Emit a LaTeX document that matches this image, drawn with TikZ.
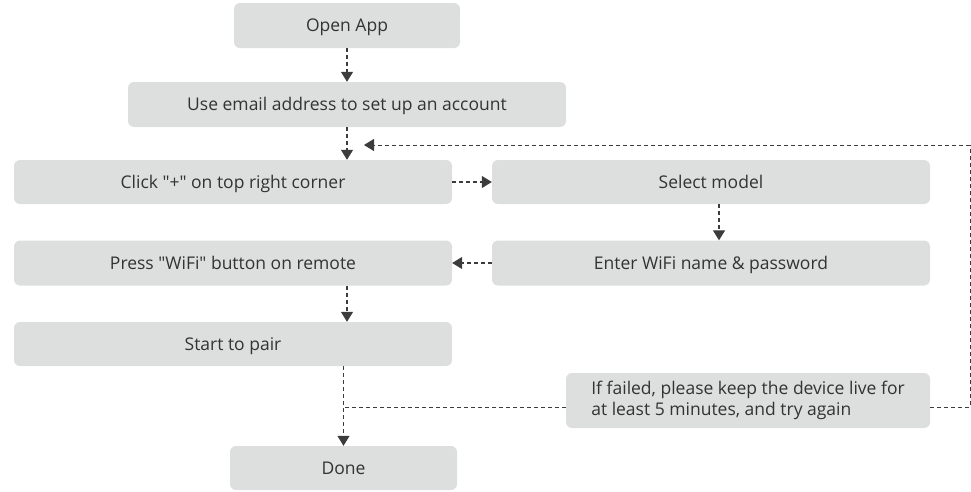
\documentclass[tikz,border=0pt]{standalone}
\usepackage{fontspec}
\setmainfont{Open Sans}
\usetikzlibrary{arrows.meta,calc}
\definecolor{boxgray}{HTML}{DDDEDE}
\definecolor{txtgray}{HTML}{333333}
\definecolor{lngray}{HTML}{3C3C3C}
\tikzset{
  box/.style={fill=boxgray, rounded corners=6pt, inner sep=0pt, text=txtgray,
    font=\fontsize{17.5}{21}\selectfont},
  onebox/.style={box, text height=14pt, text depth=2pt},
  flow/.style={draw=lngray, line width=1.3pt, dash pattern=on 4pt off 3pt,
    -{Triangle[length=10pt,width=12pt]}},
  link/.style={draw=lngray, line width=1pt, dash pattern=on 4pt off 3pt}
}
\begin{document}
\begin{tikzpicture}[x=1pt,y=-1pt]
\useasboundingbox (0,0) rectangle (971,491);
\node[onebox, minimum width=226pt, minimum height=45pt] (open) at (347,25.5) {Open App};
\node[onebox, minimum width=438pt, minimum height=45pt] (email) at (347,104.5) {Use email address to set up an account};
\node[onebox, minimum width=438pt, minimum height=44pt] (click) at (233,182) {Click \textquotedbl+\textquotedbl\ on top right corner};
\node[onebox, minimum width=438pt, minimum height=44pt] (select) at (711,182) {Select model};
\node[onebox, minimum width=438pt, minimum height=45pt] (press) at (233,263) {Press \textquotedbl WiFi\textquotedbl\ button on remote};
\node[onebox, minimum width=438pt, minimum height=45pt] (enter) at (711,263) {Enter WiFi name \& password};
\node[onebox, minimum width=438pt, minimum height=44pt] (start) at (233,344) {Start to pair};
\node[box, minimum width=364pt, minimum height=55pt, align=left] (fail) at (748,400.5)
  {If failed, please keep the device live for\\at least 5 minutes, and try again};
\node[onebox, minimum width=227pt, minimum height=44pt] (done) at (343.5,468) {Done};

\draw[flow] (open.south) -- (email.north);
\draw[flow] (email.south) -- (email.south |- click.north);
\draw[flow] (click.east) -- (select.west);
\draw[flow] ([xshift=8pt]select.south) -- ([xshift=8pt]enter.north);
\draw[flow] (enter.west) -- (press.east);
\draw[flow] (press.south -| open.south) -- (start.north -| open.south);
\draw[flow] (start.south -| done.north) -- (done.north);

\coordinate (fl) at ([yshift=-6.5pt]fail.west);
\coordinate (fr) at ([yshift=-6.5pt]fail.east);
\coordinate (r1) at (970,407);
\coordinate (r2) at (970,145);
\coordinate (tip) at (364,145);
\draw[link] (fl) -- (fl -| done.north);
\draw[link] (fr) -- (r1) -- (r2);
\draw[flow, line width=1pt] (r2) -- (tip);
\end{tikzpicture}
\end{document}
